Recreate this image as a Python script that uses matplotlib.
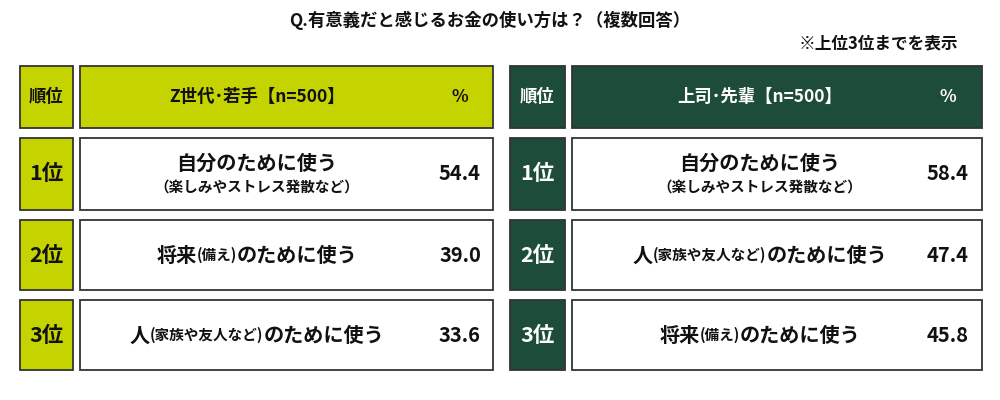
import matplotlib
matplotlib.use("Agg")
import matplotlib.pyplot as plt
from matplotlib.patches import Rectangle

plt.rcParams['font.family'] = ['Noto Sans CJK JP', 'DejaVu Sans']

title = "Q.有意義だと感じるお金の使い方は？（複数回答）"
note = "※上位3位までを表示"
rank_header = "順位"
pct_header = "%"
ranks = ["1位", "2位", "3位"]
groups = ["Z世代･若手【n=500】", "上司･先輩【n=500】"]
left_labels = [([("自分のために使う", False)], "（楽しみやストレス発散など）"),
               ([("将来", False), ("(備え)", True), ("のために使う", False)], None),
               ([("人", False), ("(家族や友人など)", True), ("のために使う", False)], None)]
left_values = [54.4, 39.0, 33.6]
right_labels = [([("自分のために使う", False)], "（楽しみやストレス発散など）"),
                ([("人", False), ("(家族や友人など)", True), ("のために使う", False)], None),
                ([("将来", False), ("(備え)", True), ("のために使う", False)], None)]
right_values = [58.4, 47.4, 45.8]

colors = ["#c5d300", "#1d4d38"]
hdr_txt = ["#111111", "#ffffff"]

fig = plt.figure(figsize=(10, 4), dpi=100)
ax = fig.add_axes([0, 0, 1, 1])
ax.set_xlim(0, 1000); ax.set_ylim(400, 0); ax.axis('off')
fig.canvas.draw()
rend = fig.canvas.get_renderer()

def px_width(s, size):
    t = ax.text(0, 0, s, fontsize=size, fontweight='bold')
    w = t.get_window_extent(renderer=rend).width
    t.remove()
    return w

def mixed(xc, y, pieces, big=14.5, small=10.5):
    widths = [px_width(s, small if sm else big) for s, sm in pieces]
    x = xc - sum(widths) / 2
    for (s, sm), w in zip(pieces, widths):
        ax.text(x, y, s, fontsize=small if sm else big, fontweight='bold',
                ha='left', va='center', color='#111111')
        x += w

ax.text(490, 20, title, fontsize=12.5, fontweight='bold', ha='center', va='center', color='#111111')
ax.text(958, 43, note, fontsize=12, fontweight='bold', ha='right', va='center', color='#111111')

tables = [(20, 73, 80, 493, 257, 460, left_labels, left_values),
          (510, 565, 572, 982, 760, 948, right_labels, right_values)]
rows = [(66, 128), (138, 210), (220, 290), (300, 370)]
ec = "#333333"
for i, (r0, r1, c0, c1, tx, nx, labels, vals) in enumerate(tables):
    col = colors[i]; tc = hdr_txt[i]
    y0, y1 = rows[0]
    ax.add_patch(Rectangle((r0, y0), r1 - r0, y1 - y0, fc=col, ec=ec, lw=1.3))
    ax.add_patch(Rectangle((c0, y0), c1 - c0, y1 - y0, fc=col, ec=ec, lw=1.3))
    ym = (y0 + y1) / 2
    ax.text((r0 + r1) / 2, ym, rank_header, fontsize=12.5, fontweight='bold', ha='center', va='center', color=tc)
    ax.text(tx, ym, groups[i], fontsize=12.5, fontweight='bold', ha='center', va='center', color=tc)
    ax.text(nx, ym, pct_header, fontsize=12.5, fontweight='bold', ha='center', va='center', color=tc)
    for k in range(3):
        y0, y1 = rows[k + 1]; ym = (y0 + y1) / 2
        ax.add_patch(Rectangle((r0, y0), r1 - r0, y1 - y0, fc=col, ec=ec, lw=1.3))
        ax.add_patch(Rectangle((c0, y0), c1 - c0, y1 - y0, fc='white', ec=ec, lw=1.3))
        ax.text((r0 + r1) / 2, ym, ranks[k], fontsize=15.5, fontweight='bold', ha='center', va='center', color=tc)
        pieces, sub = labels[k]
        if sub:
            mixed(tx, ym - 11, pieces)
            ax.text(tx, ym + 13, sub, fontsize=10.5, fontweight='bold', ha='center', va='center', color='#111111')
        else:
            mixed(tx, ym, pieces)
        ax.text(nx, ym, f"{vals[k]:.1f}", fontsize=14.5, fontweight='bold', ha='center', va='center', color='#111111')

fig.savefig("out.png", dpi=100)
